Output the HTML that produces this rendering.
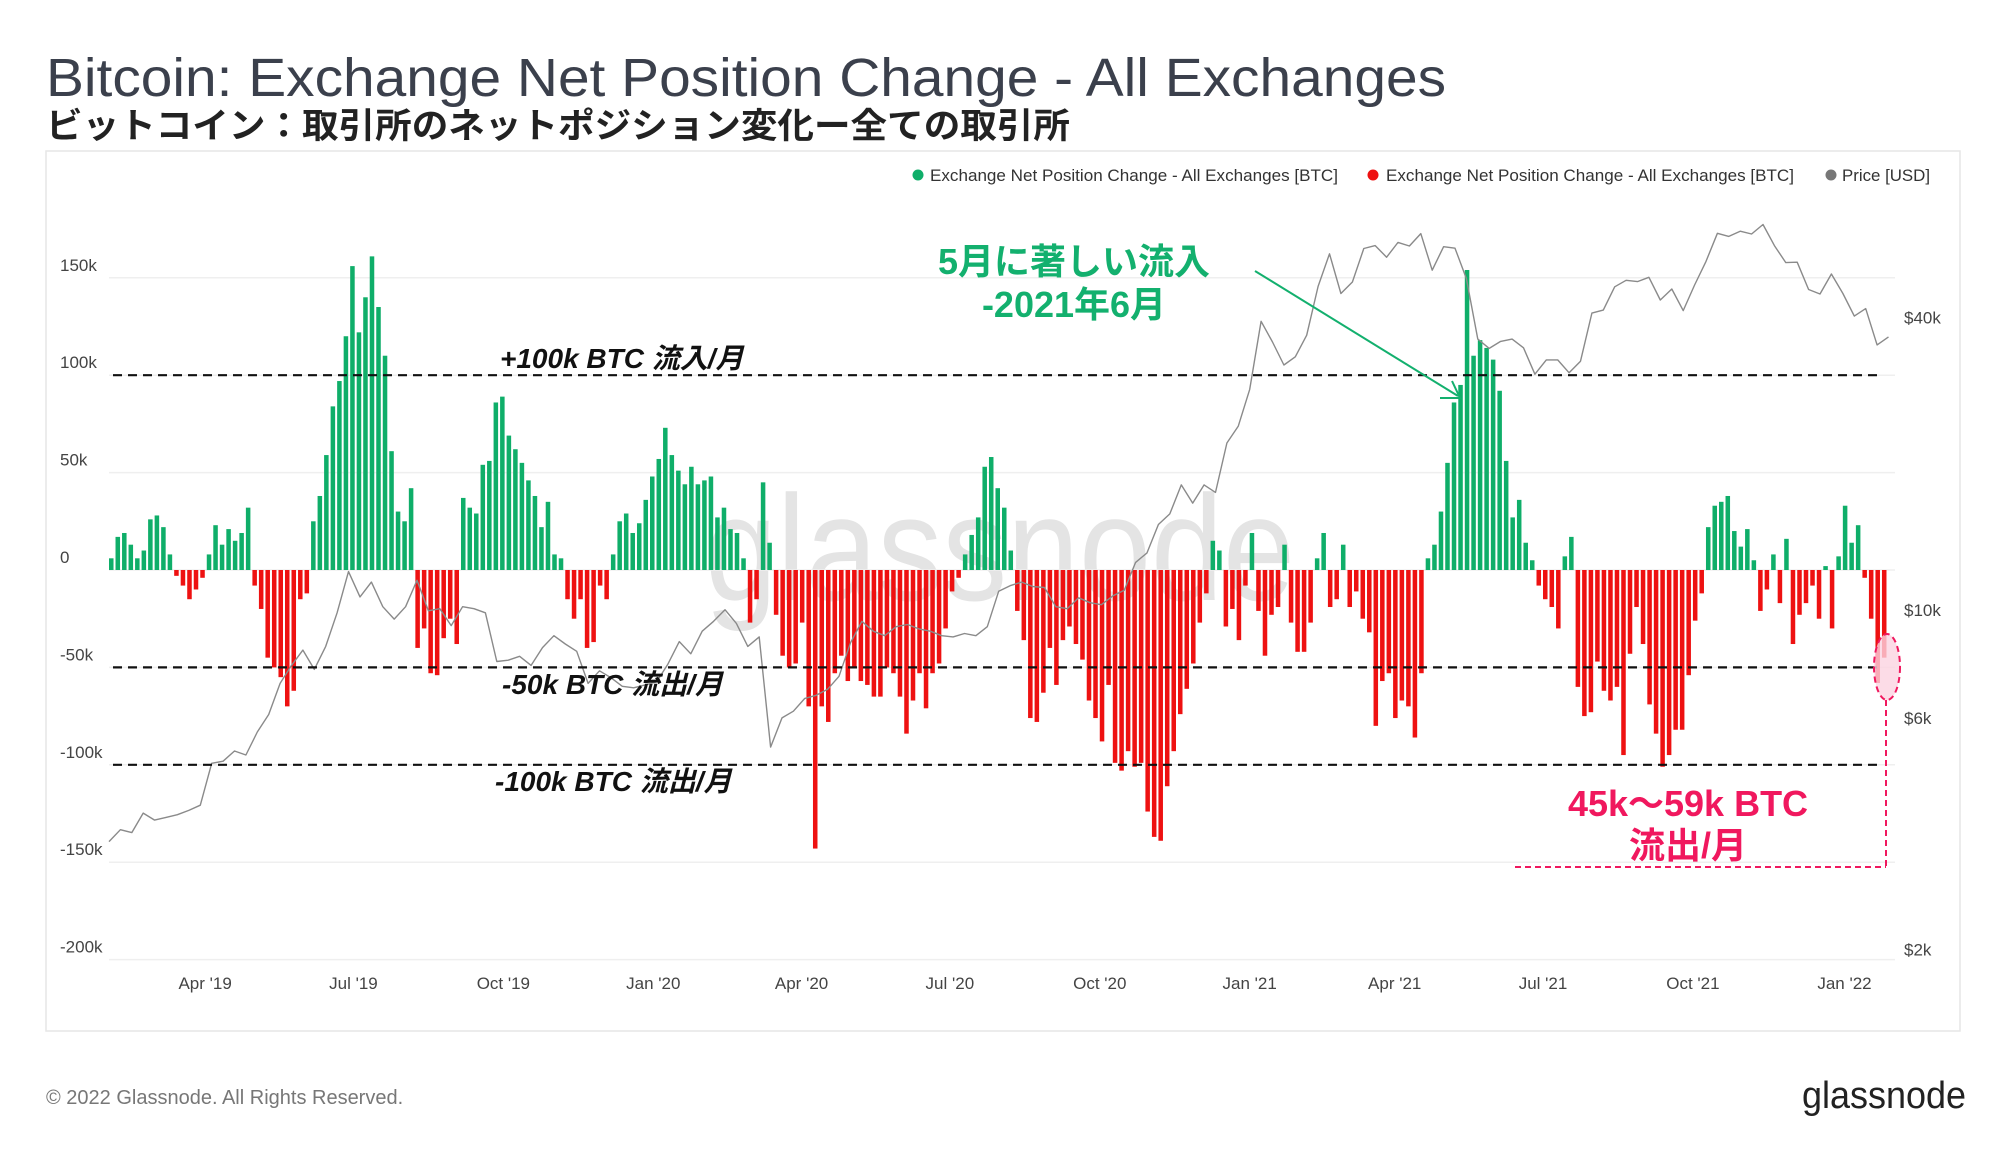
<!DOCTYPE html>
<html><head><meta charset="utf-8"><style>
html,body{margin:0;padding:0;background:#fff;}
svg{display:block;font-family:"Liberation Sans","Noto Sans CJK JP",sans-serif;}
</style></head><body>
<svg id="chart" width="2000" height="1152" viewBox="0 0 2000 1152" xmlns="http://www.w3.org/2000/svg">
<text x="46" y="96" font-size="54" fill="#3b404c" textLength="1400" lengthAdjust="spacingAndGlyphs">Bitcoin: Exchange Net Position Change - All Exchanges</text>
<text x="46" y="138" font-size="35" font-weight="bold" fill="#222" textLength="1024" lengthAdjust="spacingAndGlyphs">ビットコイン：取引所のネットポジション変化ー全ての取引所</text>
<rect x="46" y="151" width="1914" height="880" fill="#fff" stroke="#e6e6e6" stroke-width="1.5"/>
<g>
<circle cx="918" cy="175" r="5.5" fill="#0fae69"/>
<text x="930" y="181" font-size="17" fill="#333" textLength="408" lengthAdjust="spacingAndGlyphs">Exchange Net Position Change - All Exchanges [BTC]</text>
<circle cx="1373" cy="175" r="5.5" fill="#ee1111"/>
<text x="1386" y="181" font-size="17" fill="#333" textLength="408" lengthAdjust="spacingAndGlyphs">Exchange Net Position Change - All Exchanges [BTC]</text>
<circle cx="1831" cy="175" r="5.5" fill="#777"/>
<text x="1842" y="181" font-size="17" fill="#333" textLength="88" lengthAdjust="spacingAndGlyphs">Price [USD]</text>
</g>
<text x="1000" y="600" font-size="150" fill="#e4e4e4" text-anchor="middle" textLength="590" lengthAdjust="spacingAndGlyphs">glassnode</text>
<g id="grid"></g>
<g id="bars"></g>
<g id="price"></g>
<g id="axes"></g>
<g id="annot"></g>
<text x="46" y="1104" font-size="20" fill="#777">© 2022 Glassnode. All Rights Reserved.</text>
<text x="1966" y="1108" font-size="38" fill="#222" text-anchor="end" textLength="164" lengthAdjust="spacingAndGlyphs">glassnode</text>
</svg>
<script>
const netChangeK = [6,17,19,13,6,10,26,28,22,8,
-3,-8,-15,-10,-4,8,23,13,21,15,
19,32,-8,-20,-45,-50,-55,-70,-62,-15,
-12,25,38,59,84,97,120,156,122,140,
161,135,110,61,30,25,42,-40,-30,-53,
-54,-35,-25,-38,37,32,29,54,56,86,
89,69,62,55,46,38,22,35,8,6,
-15,-25,-15,-40,-37,-8,-15,8,25,29,
19,24,36,48,57,73,59,51,44,53,
44,46,48,27,32,21,19,6,-27,-15,
45,14,-23,-44,-50,-48,-27,-70,-143,-70,
-78,-53,-44,-57,-50,-57,-59,-65,-65,-50,
-53,-65,-84,-67,-53,-71,-53,-48,-30,-11,
-4,8,18,27,53,58,42,32,10,-21,
-36,-76,-78,-63,-40,-59,-36,-29,-38,-46,
-67,-76,-88,-59,-99,-103,-93,-101,-99,-124,
-137,-139,-111,-93,-74,-61,-48,-27,-12,15,
10,-29,-20,-36,-8,19,-21,-44,-23,-19,
13,-27,-42,-42,-27,6,19,-19,-15,13,
-19,-11,-25,-32,-80,-57,-53,-76,-67,-70,
-86,-53,6,13,30,55,86,95,154,110,
118,114,108,92,56,27,36,14,5,-8,
-15,-19,-30,7,17,-60,-75,-73,-47,-62,
-67,-60,-95,-43,-19,-38,-69,-84,-101,-95,
-82,-82,-54,-26,-12,22,33,35,38,20,
12,21,5,-21,-10,8,-17,16,-38,-23,
-17,-8,-25,2,-30,7,33,14,23,-4,
-25,-58,-45];
const barDays = 4;
const priceUSD = [3450,3650,3600,3950,3820,3870,3920,4000,4100,5000,5050,5300,5200,5800,6300,7300,7950,8550,7800,8700,10200,12400,11000,11800,10500,9900,10500,11900,10300,10400,9600,10500,10400,10200,8100,8150,8300,7950,8650,9150,8800,8500,7300,7750,7500,7200,7150,7250,
7350,8000,8900,8400,9350,9800,10350,9700,8700,9100,5400,6200,6400,6800,6900,7100,7550,8850,9800,9350,9150,9550,9650,9450,9350,9150,9100,9250,9150,9550,11300,11600,11800,11550,11500,10500,10400,10950,10700,10600,11050,11350,12950,13550,15500,16300,18700,17150,18700,18050,22800,24700,
29400,40600,36800,33000,34300,38000,47900,55900,46300,48900,57300,58100,55000,59000,58000,61500,51700,57800,57400,49700,37300,35700,36900,37300,35800,31600,33800,33800,31800,33600,42200,42800,47800,49300,49000,50000,44900,47300,42700,48200,53900,61600,60700,62200,61400,64200,58100,53600,53700,47200,46200,50800,46300,
41600,43100,36300,37700];
const priceStepDays = 7;
const leftTicks = [150,100,50,0,-50,-100,-150,-200];
const leftTickLabels = ["150k","100k","50k","0","-50k","-100k","-150k","-200k"];
const rightTicks = [40000,10000,6000,2000];
const rightTickLabels = ["$40k","$10k","$6k","$2k"];
const dateTickDays = [59,150,242,334,425,516,608,700,789,880,972,1065];
const dateTickLabels = ["Apr '19","Jul '19","Oct '19","Jan '20","Apr '20","Jul '20","Oct '20","Jan '21","Apr '21","Jul '21","Oct '21","Jan '22"];
const refLevels = [100,-50,-100];

const NS="http://www.w3.org/2000/svg";
const X0=109, PXDAY=1786/1096;
function xDay(d){return X0+d*PXDAY;}
function yK(v){return 570 - v*97.4/50;}
function yP(p){return 617 + (4-Math.log10(p))*486;}
function mk(tag,attrs,parent){const e=document.createElementNS(NS,tag);for(const k in attrs)e.setAttribute(k,attrs[k]);parent.appendChild(e);return e;}

const grid=document.getElementById('grid'), axes=document.getElementById('axes');
leftTicks.forEach((t,i)=>{
  const g=mk('line',{x1:109,x2:1895,y1:yK(t),y2:yK(t),stroke:'#efefef','stroke-width':1.5},grid);
  
  
  const l=mk('text',{x:60,y:yK(t)-7,'font-size':17,fill:'#444'},axes);
  l.textContent=leftTickLabels[i];
  
  
});
rightTicks.forEach((t,i)=>{
  const l=mk('text',{x:1904,y:yP(t)-1,'font-size':17,fill:'#444'},axes);
  l.textContent=rightTickLabels[i];
  
  
});
dateTickDays.forEach((d,i)=>{
  const l=mk('text',{x:xDay(d),y:989,'font-size':17,fill:'#444','text-anchor':'middle'},axes);
  l.textContent=dateTickLabels[i];
  
  
});

const bars=document.getElementById('bars');
const bw=barDays*PXDAY;
netChangeK.forEach((v,i)=>{
  const x=xDay(i*barDays);
  const y0=yK(0), y1=yK(v);
  const r=mk('rect',{x:x.toFixed(2),y:Math.min(y0,y1).toFixed(2),width:(bw-2).toFixed(2),height:Math.max(0.5,Math.abs(y1-y0)).toFixed(2),fill:v>=0?'#0fae69':'#ee1111'},bars);
  
  
});

const pg=document.getElementById('price');
let dstr='';
priceUSD.forEach((p,i)=>{dstr+=(i?'L':'M')+xDay(i*priceStepDays).toFixed(1)+' '+yP(p).toFixed(1);});
const pl=mk('path',{d:dstr,fill:'none',stroke:'#8a8a8a','stroke-width':1.4,'stroke-linejoin':'round'},pg);



const an=document.getElementById('annot');
refLevels.forEach(v=>{
  const l=mk('line',{x1:113,x2:1882,y1:yK(v),y2:yK(v),stroke:'#111','stroke-width':2.2,'stroke-dasharray':'9 6'},an);
  
  
});
</script>
<script>
const an2=document.getElementById('annot');
an2.insertAdjacentHTML('beforeend',`
<text x="500" y="368" font-size="28" font-weight="bold" font-style="italic" fill="#111">+100k BTC 流入/月</text>
<text x="502" y="694" font-size="28" font-weight="bold" font-style="italic" fill="#111">-50k BTC 流出/月</text>
<text x="495" y="791" font-size="28" font-weight="bold" font-style="italic" fill="#111">-100k BTC 流出/月</text>
<text x="1074" y="274" font-size="36" font-weight="bold" fill="#13b06e" text-anchor="middle">5月に著しい流入</text>
<text x="1074" y="317" font-size="36" font-weight="bold" fill="#13b06e" text-anchor="middle">-2021年6月</text>
<line x1="1255" y1="271" x2="1458" y2="396" stroke="#13b06e" stroke-width="2"/>
<polyline points="1440,398 1460,398 1452,381" fill="none" stroke="#13b06e" stroke-width="2"/>
<ellipse cx="1887" cy="667" rx="13" ry="33" fill="#fbd3e1" fill-opacity="0.8" stroke="#f0185e" stroke-width="2" stroke-dasharray="6 4"/>
<line x1="1886" y1="700" x2="1886" y2="867" stroke="#f0185e" stroke-width="2" stroke-dasharray="6 4"/>
<line x1="1515" y1="867" x2="1886" y2="867" stroke="#f0185e" stroke-width="2" stroke-dasharray="6 4"/>
<text x="1688" y="816" font-size="36" font-weight="bold" fill="#f0185e" text-anchor="middle">45k〜59k BTC</text>
<text x="1688" y="858" font-size="36" font-weight="bold" fill="#f0185e" text-anchor="middle">流出/月</text>
`);
</script>
</body></html>
